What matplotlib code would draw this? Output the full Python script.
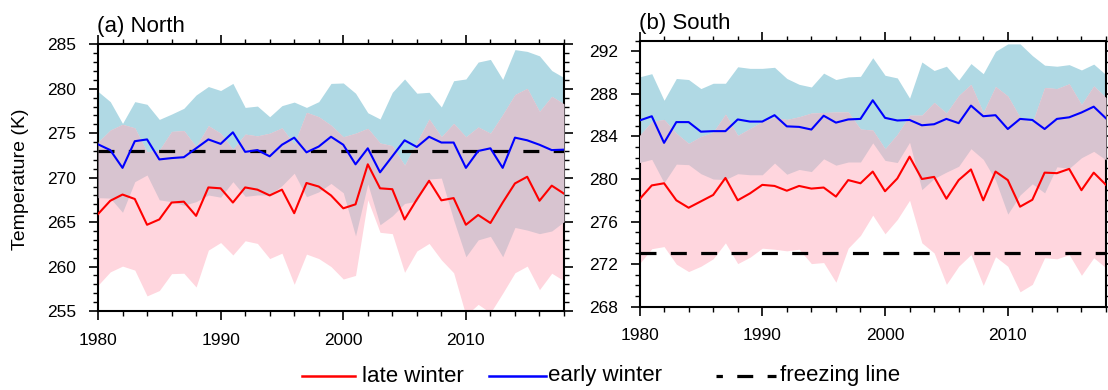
import numpy as np
import matplotlib
matplotlib.use('Agg')
import matplotlib.pyplot as plt
from matplotlib.ticker import MultipleLocator
from matplotlib.lines import Line2D

plt.rcParams['font.family'] = ['Liberation Sans', 'DejaVu Sans']

years = np.arange(1980, 2019)

# (a) North
north_late = [265.9, 267.4, 268.1, 267.6, 264.7, 265.3, 267.2, 267.3, 265.7, 268.9,
              268.8, 267.2, 268.9, 268.65, 268.0, 268.65, 266.0, 269.4, 269.0, 268.0,
              266.55, 267.0, 271.5, 268.8, 268.7, 265.3, 267.55, 269.65, 267.45, 267.7,
              264.7, 265.8, 264.9, 267.2, 269.35, 270.1, 267.4, 269.1, 268.2]
north_early = [273.75, 273.1, 271.1, 274.1, 274.3, 272.05, 272.2, 272.3, 273.3, 274.3,
               273.8, 275.1, 272.9, 273.1, 272.4, 273.7, 274.5, 272.85, 273.5, 274.6,
               273.7, 271.5, 273.3, 270.6, 272.4, 274.2, 273.45, 274.6, 273.95, 273.95,
               271.1, 273.0, 273.3, 271.1, 274.5, 274.2, 273.7, 273.1, 273.15]
north_late_lo = [257.9, 259.4, 260.05, 259.6, 256.7, 257.3, 259.2, 259.25, 257.7, 261.85,
                 262.7, 261.3, 262.9, 262.6, 260.9, 261.5, 258.0, 261.4, 260.9, 260.0,
                 258.6, 259.0, 267.5, 263.85, 263.7, 259.35, 261.75, 262.6, 260.75, 259.3,
                 254.5, 255.75, 254.8, 257.0, 259.3, 260.05, 257.4, 259.25, 258.4]
north_late_hi = [274.0, 275.35, 276.0, 275.6, 272.9, 273.1, 275.2, 275.3, 273.5, 275.85,
                 275.0, 273.2, 274.9, 274.7, 275.0, 275.6, 273.75, 277.35, 276.85, 275.9,
                 274.6, 275.0, 275.55, 273.9, 273.6, 271.4, 274.0, 276.6, 274.6, 276.1,
                 274.6, 275.7, 275.0, 277.1, 279.35, 280.05, 277.45, 279.15, 278.3]
north_early_lo = [267.75, 267.7, 266.1, 269.55, 270.3, 267.5, 267.3, 266.9, 267.3, 268.05,
                  267.8, 269.55, 267.9, 268.05, 268.05, 269.1, 270.5, 267.85, 268.4, 269.35,
                  268.3, 263.45, 269.3, 264.7, 265.7, 267.1, 267.35, 269.85, 269.95, 265.25,
                  261.1, 263.0, 263.4, 261.1, 264.4, 264.1, 263.7, 264.0, 265.05]
north_early_hi = [279.7, 278.55, 276.1, 278.55, 278.25, 276.55, 277.15, 277.8, 279.3, 280.25,
                  279.8, 280.6, 277.9, 278.05, 276.85, 278.1, 278.5, 277.9, 278.55, 280.6,
                  280.65, 279.5, 277.3, 276.6, 279.6, 281.1, 279.5, 279.6, 277.95, 280.9,
                  281.1, 283.0, 283.3, 281.05, 284.4, 284.2, 283.7, 282.05, 281.25]

# (b) South
south_late = [278.1, 279.4, 279.6, 278.0, 277.3, 277.9, 278.5, 280.1, 278.0, 278.65,
              279.45, 279.35, 278.9, 279.35, 279.1, 279.2, 278.35, 279.9, 279.6, 280.7,
              278.85, 280.05, 282.1, 280.0, 280.2, 278.15, 279.9, 280.9, 278.0, 280.7,
              279.9, 277.4, 278.05, 280.6, 280.55, 280.95, 278.95, 280.6, 279.45]
south_early = [285.5, 285.9, 283.4, 285.35, 285.35, 284.45, 284.5, 284.5, 285.6, 285.4,
               285.4, 286.0, 284.95, 284.9, 284.65, 285.95, 285.3, 285.6, 285.65, 287.4,
               285.75, 285.5, 285.55, 285.05, 285.15, 285.65, 285.25, 286.9, 285.9, 286.0,
               284.7, 285.65, 285.55, 284.7, 285.65, 285.8, 286.25, 286.8, 285.7]
south_late_lo = [272.05, 273.45, 273.65, 272.0, 271.3, 271.8, 272.5, 274.0, 272.05, 272.65,
                 273.5, 273.4, 273.25, 273.4, 272.05, 272.15, 270.3, 273.5, 274.7, 276.6,
                 274.85, 276.2, 278.0, 274.0, 273.05, 270.1, 271.8, 272.9, 270.0, 272.7,
                 271.8, 269.4, 270.1, 272.6, 272.5, 272.9, 270.95, 272.6, 271.65]
south_late_hi = [284.1, 285.4, 285.6, 284.3, 283.35, 284.0, 284.4, 286.1, 284.1, 284.75,
                 285.4, 285.8, 285.6, 285.85, 286.2, 286.25, 286.3, 286.3, 284.7, 284.6,
                 282.85, 284.2, 286.0, 286.0, 287.2, 286.2, 287.85, 288.9, 286.25, 288.7,
                 287.8, 285.8, 285.3, 288.6, 288.5, 288.95, 287.0, 288.75, 287.65]
south_early_lo = [281.55, 281.85, 279.65, 281.4, 281.35, 280.5, 280.0, 279.95, 280.5, 280.4,
                  280.4, 281.5, 280.45, 280.9, 280.7, 281.9, 281.3, 281.6, 281.6, 283.4,
                  281.75, 281.55, 283.45, 279.0, 280.05, 280.65, 281.2, 282.85, 281.85, 279.9,
                  276.7, 278.5, 279.55, 278.7, 281.15, 281.0, 282.0, 282.6, 281.8]
south_early_hi = [289.6, 289.9, 287.4, 289.45, 289.35, 288.5, 289.0, 289.0, 290.55, 290.4,
                  290.4, 290.5, 289.45, 288.9, 288.65, 289.95, 289.35, 289.6, 289.65, 291.4,
                  289.75, 289.5, 287.6, 291.0, 290.2, 290.6, 289.3, 290.85, 289.9, 292.0,
                  292.7, 292.7, 291.6, 290.7, 290.6, 290.75, 290.25, 290.8, 289.8]

freezing = 273.0

c_blue_band = '#b0d9e4'
c_pink_band = '#ffd6de'
c_overlap = '#d8c4d0'


def draw_panel(ax, late, early, late_lo, late_hi, early_lo, early_hi, ylim, ystep):
    late_lo, late_hi = np.array(late_lo), np.array(late_hi)
    early_lo, early_hi = np.array(early_lo), np.array(early_hi)
    ax.fill_between(years, early_lo, early_hi, color=c_blue_band, lw=0, zorder=1)
    ax.fill_between(years, late_lo, late_hi, color=c_pink_band, lw=0, zorder=2)
    # overlap of the two spreads
    lo = np.maximum(early_lo, late_lo)
    hi = np.minimum(early_hi, late_hi)
    ax.fill_between(years, lo, hi, where=hi > lo, interpolate=True,
                    color=c_overlap, lw=0, zorder=3)
    ax.axhline(freezing, color='k', lw=2.3, ls=(0, (5, 4.5)), zorder=4)
    ax.plot(years, late, color='#ff0000', lw=1.5, zorder=5)
    ax.plot(years, early, color='#0000ff', lw=1.5, zorder=5)

    ax.set_xlim(1980, 2018)
    ax.set_ylim(*ylim)
    ax.xaxis.set_major_locator(MultipleLocator(10))
    ax.xaxis.set_minor_locator(MultipleLocator(2))
    ax.yaxis.set_major_locator(MultipleLocator(ystep))
    ax.yaxis.set_minor_locator(MultipleLocator(1))
    ax.tick_params(which='both', direction='out', top=True, right=True,
                   labelsize=12.5, pad=9)
    ax.tick_params(which='major', length=6.5, width=1.2)
    ax.tick_params(which='minor', length=3.3, width=1.0)
    for s in ax.spines.values():
        s.set_linewidth(1.5)


fig = plt.figure(figsize=(11.08, 3.9), dpi=100)

ax1 = fig.add_axes([98 / 1108, 79 / 390, 466 / 1108, 266.7 / 390])
draw_panel(ax1, north_late, north_early, north_late_lo, north_late_hi,
           north_early_lo, north_early_hi, (255, 285), 5)

ax2 = fig.add_axes([639.5 / 1108, 83.3 / 390, 466.5 / 1108, 266 / 390])
draw_panel(ax2, south_late, south_early, south_late_lo, south_late_hi,
           south_early_lo, south_early_hi, (268, 293), 4)

fig.text(97 / 1108, 1 - 32 / 390, '(a) North', fontsize=16, va='baseline')
fig.text(639 / 1108, 1 - 29 / 390, '(b) South', fontsize=16, va='baseline')
fig.text(21 / 1108, 0.54, 'Temperature (K)', fontsize=14, rotation=90,
         ha='center', va='center')

# legend, drawn by hand
ly = 1 - 376 / 390
fig.add_artist(Line2D([302 / 1108, 355 / 1108], [ly, ly], color='#ff0000', lw=1.8))
fig.text(362 / 1108, ly, 'late winter', fontsize=16, va='center')
fig.add_artist(Line2D([489 / 1108, 546 / 1108], [ly, ly], color='#0000ff', lw=1.8))
fig.text(548 / 1108, ly, 'early winter', fontsize=16, va='center')
fig.add_artist(Line2D([716 / 1108, 776 / 1108], [ly, ly], color='k', lw=2.3,
                      ls=(3, (5, 4.5))))
fig.text(780 / 1108, ly, 'freezing line', fontsize=16, va='center')

fig.savefig('out.png', dpi=100)
